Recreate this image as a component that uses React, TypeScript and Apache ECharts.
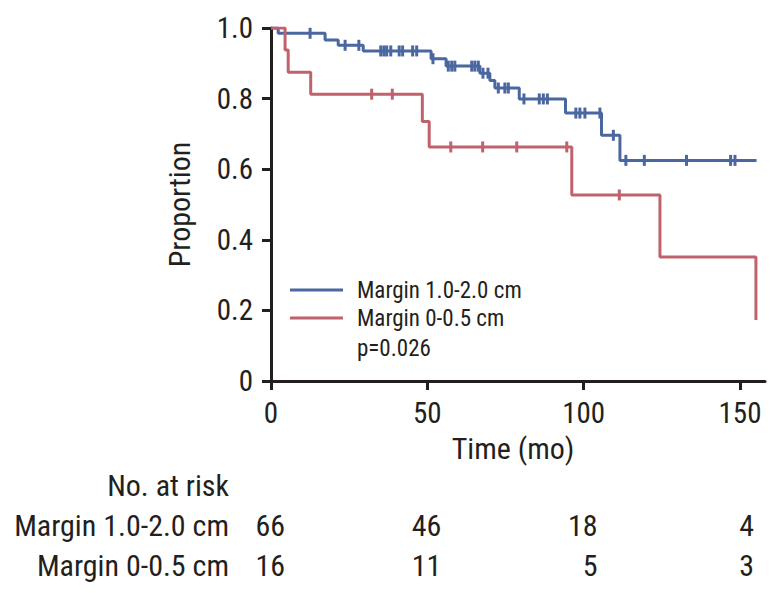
import React, { useEffect, useRef } from "react";
import * as echarts from "echarts";

const FONT = "'Liberation Sans Narrow', 'Roboto Condensed', 'DejaVu Sans Condensed', 'Liberation Sans', sans-serif";
const INK = "#231f20";
const BLUE = "#4a67a0";
const RED = "#c0616b";

const seriesNames = ["Margin 1.0-2.0 cm", "Margin 0-0.5 cm"];

// Kaplan-Meier steps: [time (mo), proportion]
const blueSteps: [number, number][] = [
  [0, 1.0], [2.3, 0.985], [17.3, 0.966], [21.5, 0.951], [29.5, 0.935],
  [51.2, 0.913], [56.0, 0.892], [66.8, 0.872], [70.0, 0.851], [71.6, 0.83],
  [79.4, 0.799], [94.2, 0.759], [105.7, 0.696], [111.6, 0.625], [155.3, 0.625],
];
const redSteps: [number, number][] = [
  [0, 1.0], [4.5, 0.9375], [5.5, 0.875], [12.7, 0.8125], [48.4, 0.735],
  [50.6, 0.663], [96.2, 0.527], [124.4, 0.351], [155.1, 0.173],
];
// censored observation times
const blueCensored = [
  12.5, 23.7, 28.1, 35.1, 36.1, 37.0, 38.3, 41.0, 42.1, 45.3, 46.6, 51.8,
  56.7, 57.8, 58.8, 64.2, 65.2, 66.3, 67.8, 69.4, 72.7, 74.8, 75.9, 80.9,
  85.8, 87.1, 88.4, 97.5, 98.8, 100.4, 105.2, 109.5, 113.5, 119.4, 132.9,
  147.0, 148.4,
];
const redCensored = [32.2, 38.8, 57.5, 67.7, 78.6, 94.6, 111.4];

const xTicks = [0, 50, 100, 150];
const riskHeader = "No. at risk";
const riskTimes = [0, 50, 100, 150];
const riskBlue = [66, 46, 18, 4];
const riskRed = [16, 11, 5, 3];
const pValueText = "p=0.026";

function survivalAt(steps: [number, number][], t: number): number {
  let v = steps[0][1];
  for (const [time, s] of steps) {
    if (time <= t) v = s;
  }
  return v;
}

export default function App() {
  const ref = useRef<HTMLDivElement>(null);
  useEffect(() => {
    if (!ref.current) return;
    const chart = echarts.init(ref.current, null, { renderer: "svg" });
    const riskData = [
      ...riskTimes.map((t, i) => [t, seriesNames[0], riskBlue[i]]),
      ...riskTimes.map((t, i) => [t, seriesNames[1], riskRed[i]]),
    ];
    chart.setOption({
      animation: false,
      textStyle: { fontFamily: FONT, color: INK },
      grid: [
        { left: 271, right: 16, top: 28, bottom: 217 },
        { left: 271, right: 16, top: 465, height: 120 },
      ],
      xAxis: [
        {
          type: "value",
          gridIndex: 0,
          min: 0,
          max: 158,
          name: "Time (mo)",
          nameLocation: "middle",
          nameGap: 52,
          nameTextStyle: { fontSize: 30, fontFamily: FONT, color: INK, padding: [0, 10, 0, 0] },
          axisLine: { show: true, onZero: false, lineStyle: { color: INK, width: 3 } },
          axisTick: { show: true, length: 9, lineStyle: { color: INK, width: 3 }, customValues: xTicks },
          axisLabel: { customValues: xTicks, fontSize: 29, margin: 17, color: INK, fontFamily: FONT },
          splitLine: { show: false },
        },
        { type: "value", gridIndex: 1, min: 0, max: 158, show: false },
      ],
      yAxis: [
        {
          type: "value",
          gridIndex: 0,
          min: 0,
          max: 1,
          interval: 0.2,
          name: "Proportion",
          nameLocation: "middle",
          nameGap: 77,
          nameRotate: 90,
          nameTextStyle: { fontSize: 30, fontFamily: FONT, color: INK },
          axisLine: { show: true, lineStyle: { color: INK, width: 3 } },
          axisTick: { show: true, length: 9, lineStyle: { color: INK, width: 3 } },
          axisLabel: {
            fontSize: 29,
            margin: 18,
            color: INK,
            fontFamily: FONT,
            formatter: (v: number) => (v === 0 ? "0" : v.toFixed(1)),
          },
          splitLine: { show: false },
        },
        {
          type: "category",
          gridIndex: 1,
          inverse: true,
          data: [riskHeader, ...seriesNames],
          axisLine: { show: false },
          axisTick: { show: false },
          axisLabel: { interval: 0, fontSize: 30, margin: 42, color: INK, fontFamily: FONT },
          splitLine: { show: false },
        },
      ],
      legend: {
        data: seriesNames.map((name) => ({ name, icon: "rect" })),
        orient: "vertical",
        left: 290,
        top: 278,
        padding: 0,
        itemWidth: 53,
        itemHeight: 3,
        itemGap: 4,
        selectedMode: false,
        textStyle: { fontSize: 23, lineHeight: 24, color: INK, fontFamily: FONT, padding: [0, 0, 0, 9] },
      },
      graphic: [
        {
          type: "text",
          left: 357,
          top: 337,
          style: { text: pValueText, fontSize: 23, fill: INK, fontFamily: FONT },
        },
      ],
      series: [
        {
          name: seriesNames[0],
          type: "line",
          step: "end",
          data: blueSteps,
          symbol: "none",
          lineStyle: { color: BLUE, width: 3 },
          itemStyle: { color: BLUE },
          z: 2,
        },
        {
          name: "censor-blue",
          type: "scatter",
          data: blueCensored.map((t) => [t, survivalAt(blueSteps, t)]),
          symbol: "rect",
          symbolSize: [3, 11],
          itemStyle: { color: BLUE, opacity: 1 },
          silent: true,
          z: 3,
        },
        {
          name: seriesNames[1],
          type: "line",
          step: "end",
          data: redSteps,
          symbol: "none",
          lineStyle: { color: RED, width: 3 },
          itemStyle: { color: RED },
          z: 4,
        },
        {
          name: "censor-red",
          type: "scatter",
          data: redCensored.map((t) => [t, survivalAt(redSteps, t)]),
          symbol: "rect",
          symbolSize: [3, 11],
          itemStyle: { color: RED, opacity: 1 },
          silent: true,
          z: 5,
        },
        {
          name: "risk",
          type: "scatter",
          xAxisIndex: 1,
          yAxisIndex: 1,
          data: riskData,
          symbolSize: 0,
          itemStyle: { color: INK, opacity: 1 },
          silent: true,
          label: {
            show: true,
            position: "left",
            distance: 0,
            offset: [14, 0],
            fontSize: 30,
            color: INK,
            fontFamily: FONT,
            formatter: (p: any) => String(p.value[2]),
          },
        },
      ],
    });
    return () => chart.dispose();
  }, []);
  return (
    <div
      ref={ref}
      style={{ position: "absolute", left: 0, top: 0, width: 781, height: 598 }}
    />
  );
}
